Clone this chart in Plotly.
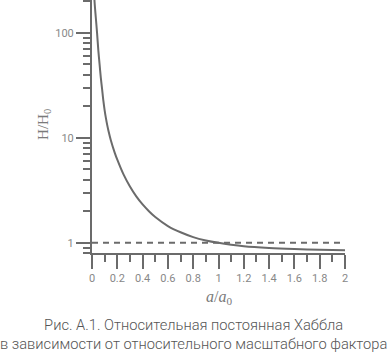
import numpy as np
import plotly.graph_objects as go

a_vals = [0.015, 0.02, 0.03, 0.04, 0.05, 0.06, 0.07, 0.08, 0.09, 0.1, 0.11, 0.12,
          0.13, 0.15, 0.18, 0.2, 0.25, 0.3, 0.35, 0.4, 0.45, 0.5, 0.6, 0.7, 0.8,
          0.9, 1.0, 1.1, 1.2, 1.4, 1.6, 1.8, 2.0]
h_vals = [300, 200, 140, 100, 68, 50, 37, 29, 22.5, 18.3, 15.4, 13.3,
          11.7, 9.4, 7.2, 6.2, 4.46, 3.44, 2.77, 2.32, 2.0, 1.76, 1.445, 1.26, 1.134,
          1.054, 1.0, 0.96, 0.93, 0.895, 0.873, 0.858, 0.848]
ref_x = [0, 2]
ref_y = [1, 1]
x_ticks = [0, 0.2, 0.4, 0.6, 0.8, 1, 1.2, 1.4, 1.6, 1.8, 2]
x_tick_text = ["0", "0.2", "0.4", "0.6", "0.8", "1", "1.2", "1.4", "1.6", "1.8", "2"]
y_ticks = [1, 10, 100]
y_tick_text = ["1", "10", "100"]

axis_col = "#6b6b6b"
lab_col = "#888888"

fig = go.Figure()
fig.add_trace(go.Scatter(x=ref_x, y=ref_y, mode="lines",
                         line=dict(color=axis_col, width=2, dash="6px,5px"),
                         showlegend=False, hoverinfo="skip"))
fig.add_trace(go.Scatter(x=a_vals, y=h_vals, mode="lines", line_shape="spline",
                         line=dict(color=axis_col, width=2, smoothing=0.8),
                         showlegend=False, hoverinfo="skip"))

fig.update_layout(
    width=388, height=352,
    margin=dict(l=92, r=43, t=0, b=99),
    paper_bgcolor="white", plot_bgcolor="white",
    font=dict(family="Roboto", color=lab_col, size=11),
    xaxis=dict(range=[0, 2], tickvals=x_ticks, ticktext=x_tick_text,
               showgrid=False, zeroline=False, showline=True,
               linecolor=axis_col, linewidth=2,
               ticks="outside", ticklen=14, tickwidth=2, tickcolor=axis_col,
               tickfont=dict(family="Roboto", size=11, color=lab_col),
               minor=dict(dtick=0.1, tick0=0, ticks="outside", ticklen=7,
                          tickwidth=2, tickcolor=axis_col, showgrid=False)),
    yaxis=dict(type="log", range=[np.log10(0.8), 2.313],
               tickvals=y_ticks, ticktext=y_tick_text,
               showgrid=False, zeroline=False, showline=True,
               linecolor=axis_col, linewidth=2,
               ticks="outside", ticklen=14, tickwidth=2, tickcolor=axis_col,
               tickfont=dict(family="Roboto", size=11, color=lab_col),
               minor=dict(dtick="D1", ticks="outside", ticklen=7,
                          tickwidth=2, tickcolor=axis_col, showgrid=False)),
)

fig.add_annotation(text="<i>a</i>/<i>a</i><sub>0</sub>", xref="paper", yref="paper",
                   x=0.5, y=-0.175, xanchor="center", yanchor="middle", showarrow=False,
                   font=dict(family="Liberation Serif", size=16, color="#7a7a7a"))
fig.add_annotation(text="H/H<sub>0</sub>", xref="paper", yref="paper",
                   x=-0.19, y=0.51, xanchor="center", yanchor="middle", showarrow=False,
                   textangle=-90,
                   font=dict(family="Liberation Serif", size=15, color="#7a7a7a"))
fig.add_annotation(text="Рис. А.1. Относительная постоянная Хаббла<br>в зависимости от относительного масштабного фактора",
                   xref="paper", yref="paper", x=0.403, y=-0.24,
                   xanchor="center", yanchor="top", showarrow=False, align="center",
                   font=dict(family="Roboto", size=14.7, color="#555555", weight=300))

fig.write_html("out.html")
